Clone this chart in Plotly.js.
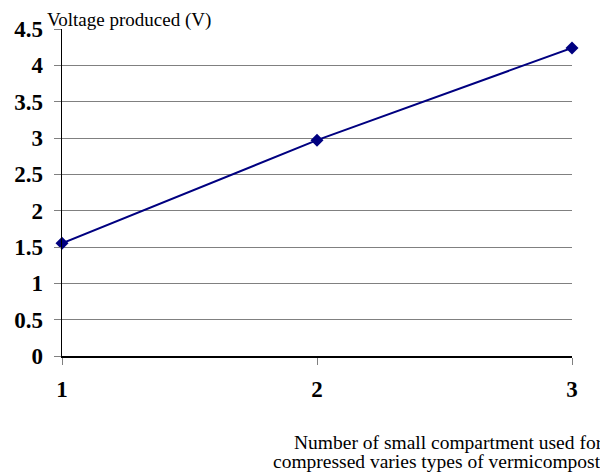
<!DOCTYPE html>
<html><head><meta charset="utf-8">
<script src="https://cdn.plot.ly/plotly-3.0.1.min.js"></script>
<style>html,body{margin:0;padding:0;background:#fff;overflow:hidden}</style>
</head><body><div id="chart" style="width:600px;height:472px"></div>
<script>
const compartments = [1, 2, 3];
const voltage = [1.55, 2.97, 4.24];
const yTickVals = [0, 0.5, 1, 1.5, 2, 2.5, 3, 3.5, 4, 4.5];
const yTickText = ['0', '0.5', '1', '1.5', '2', '2.5', '3', '3.5', '4', '4.5'];
const xTickVals = [1, 2, 3];
const yTitle = 'Voltage produced (V)';
const xTitleLine1 = 'Number of small compartment used for';
const xTitleLine2 = 'compressed varies types of vermicompost';

const font = 'Liberation Serif, Times New Roman, serif';
Plotly.newPlot('chart', [{
  x: compartments, y: voltage, type: 'scatter', mode: 'lines+markers',
  line: {color: '#000080', width: 2},
  marker: {symbol: 'diamond', size: 10, color: '#000080'},
  hoverinfo: 'none', cliponaxis: false
}], {
  width: 600, height: 472,
  margin: {l: 62, r: 28, t: 29, b: 116},
  paper_bgcolor: '#fff', plot_bgcolor: '#fff',
  showlegend: false,
  font: {family: font, color: '#000'},
  xaxis: {
    range: [1, 3], tickvals: xTickVals, ticktext: xTickVals.map(String),
    showgrid: false, zeroline: false, showline: true, linecolor: '#000', linewidth: 1.5,
    ticks: 'outside', ticklen: 7, tickcolor: '#808080', tickwidth: 1,
    ticklabelstandoff: 5,
    tickfont: {family: font, size: 23, color: '#000', weight: 'bold'}
  },
  yaxis: {
    range: [0, 4.5], tickvals: yTickVals, ticktext: yTickText,
    showgrid: true, gridcolor: '#808080', gridwidth: 1,
    zeroline: false, showline: true, linecolor: '#000', linewidth: 1.5,
    ticks: 'outside', ticklen: 7, tickcolor: '#808080', tickwidth: 1,
    ticklabelstandoff: 6,
    tickfont: {family: font, size: 23, color: '#000', weight: 'bold'}
  },
  annotations: [
    {text: yTitle, xref: 'paper', yref: 'paper', x: -0.0333, y: 1.0, xanchor: 'left', yanchor: 'top',
     yshift: 22, showarrow: false, font: {family: font, size: 19, color: '#000'}},
    {text: xTitleLine1, xref: 'paper', yref: 'paper', x: (292 - 62) / 510, y: 0, xanchor: 'left', yanchor: 'top',
     yshift: -74, showarrow: false, font: {family: font, size: 19.5, color: '#000'}},
    {text: xTitleLine2, xref: 'paper', yref: 'paper', x: (271 - 62) / 510, y: 0, xanchor: 'left', yanchor: 'top',
     yshift: -93, showarrow: false, font: {family: font, size: 19.5, color: '#000'}}
  ]
}, {staticPlot: true});
</script></body></html>
